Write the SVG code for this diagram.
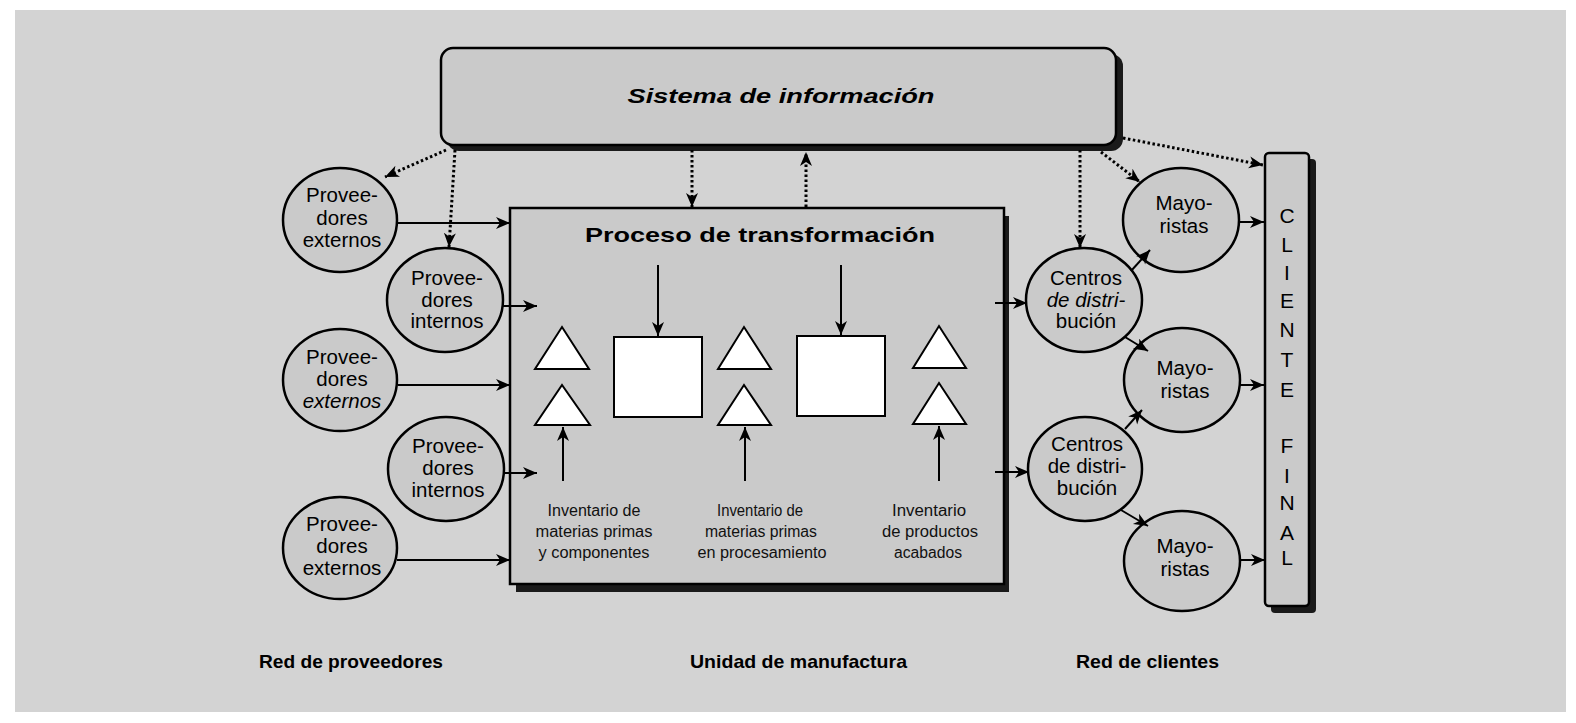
<svg xmlns="http://www.w3.org/2000/svg" width="1576" height="723" viewBox="0 0 1576 723">
<defs>
<style>
.bg{fill:#d3d3d3}
.node{fill:#cacaca;stroke:#000;stroke-width:2.5}
.shadow{fill:#1a1a1a}
.white{fill:#fff;stroke:#000;stroke-width:2}
.solid{stroke:#000;stroke-width:2;fill:none}
.dot{stroke:#000;stroke-width:3;fill:none;stroke-dasharray:2.5 2.5}
.lbl{font-family:"Liberation Sans",Arial,sans-serif;font-size:20.5px;fill:#000;text-anchor:middle}
.it{font-style:italic}
.inv{font-family:"Liberation Sans Narrow","Liberation Sans",sans-serif;font-size:16px;fill:#111;text-anchor:middle}
.title{font-family:"Liberation Sans",Arial,sans-serif;font-weight:bold;font-size:21px;fill:#000;text-anchor:middle}
.cf{font-family:"Liberation Sans",Arial,sans-serif;font-size:21px;fill:#000;text-anchor:middle}
.foot{font-family:"Liberation Sans",Arial,sans-serif;font-weight:bold;font-size:19px;fill:#000}
</style>
<marker id="ah" markerUnits="userSpaceOnUse" markerWidth="16" markerHeight="14" refX="14" refY="6" orient="auto" viewBox="0 0 16 14">
<path d="M0,0 L14,6 L0,12 L4,6 Z" fill="#000"/>
</marker>
</defs>
<rect x="0" y="0" width="1576" height="723" fill="#fff"/>
<rect class="bg" x="15" y="10" width="1551" height="702"/>

<g id="sistema">
<rect class="shadow" x="447" y="54" width="676" height="97" rx="12"/>
<rect class="node" x="441" y="48" width="675" height="97" rx="12"/>
<text class="title it" x="781" y="103" textLength="307" lengthAdjust="spacingAndGlyphs">Sistema de información</text>
</g>

<g id="proceso">
<rect class="shadow" x="516" y="216" width="493" height="376"/>
<rect class="node" x="510" y="208" width="494" height="376"/>
<text class="title" x="760" y="242" textLength="350" lengthAdjust="spacingAndGlyphs">Proceso de transformación</text>
<polygon class="white" points="535,369 589,369 562,327"/>
<polygon class="white" points="535,425 590,425 562,385"/>
<rect class="white" x="614" y="337" width="88" height="80"/>
<polygon class="white" points="718,369 771,369 744,327"/>
<polygon class="white" points="718,425 771,425 744,385"/>
<rect class="white" x="797" y="336" width="88" height="80"/>
<polygon class="white" points="913,368 966,368 939,326"/>
<polygon class="white" points="913,424 966,424 939,383"/>
<text class="inv" x="594" y="516" textLength="93" lengthAdjust="spacingAndGlyphs">Inventario de</text>
<text class="inv" x="594" y="537" textLength="117" lengthAdjust="spacingAndGlyphs">materias primas</text>
<text class="inv" x="594" y="558" textLength="111" lengthAdjust="spacingAndGlyphs">y componentes</text>
<text class="inv" x="760" y="516" textLength="86" lengthAdjust="spacingAndGlyphs">Inventario de</text>
<text class="inv" x="761" y="537" textLength="112" lengthAdjust="spacingAndGlyphs">materias primas</text>
<text class="inv" x="762" y="558" textLength="129" lengthAdjust="spacingAndGlyphs">en procesamiento</text>
<text class="inv" x="929" y="516" textLength="74" lengthAdjust="spacingAndGlyphs">Inventario</text>
<text class="inv" x="930" y="537" textLength="96" lengthAdjust="spacingAndGlyphs">de productos</text>
<text class="inv" x="928" y="558" textLength="68" lengthAdjust="spacingAndGlyphs">acabados</text>
</g>

<g id="prov-ext-1">
<ellipse class="node" cx="340" cy="220" rx="57" ry="52"/>
<text class="lbl" x="342" y="202">Provee-</text>
<text class="lbl" x="342" y="225">dores</text>
<text class="lbl" x="342" y="247">externos</text>
</g>
<g id="prov-int-1">
<ellipse class="node" cx="445" cy="300" rx="58" ry="52"/>
<text class="lbl" x="447" y="285">Provee-</text>
<text class="lbl" x="447" y="307">dores</text>
<text class="lbl" x="447" y="328">internos</text>
</g>
<g id="prov-ext-2">
<ellipse class="node" cx="340" cy="380" rx="57" ry="51"/>
<text class="lbl" x="342" y="364">Provee-</text>
<text class="lbl" x="342" y="386">dores</text>
<text class="lbl it" x="342" y="408">externos</text>
</g>
<g id="prov-int-2">
<ellipse class="node" cx="446" cy="469" rx="58" ry="52"/>
<text class="lbl" x="448" y="453">Provee-</text>
<text class="lbl" x="448" y="475">dores</text>
<text class="lbl" x="448" y="497">internos</text>
</g>
<g id="prov-ext-3">
<ellipse class="node" cx="340" cy="548" rx="57" ry="51"/>
<text class="lbl" x="342" y="531">Provee-</text>
<text class="lbl" x="342" y="553">dores</text>
<text class="lbl" x="342" y="575">externos</text>
</g>

<g id="centros-1">
<ellipse class="node" cx="1084" cy="300" rx="58" ry="52"/>
<text class="lbl" x="1086" y="285">Centros</text>
<text class="lbl it" x="1086" y="307">de distri-</text>
<text class="lbl" x="1086" y="328">bución</text>
</g>
<g id="centros-2">
<ellipse class="node" cx="1085" cy="469" rx="57" ry="52"/>
<text class="lbl" x="1087" y="451">Centros</text>
<text class="lbl" x="1087" y="473">de distri-</text>
<text class="lbl" x="1087" y="495">bución</text>
</g>

<g id="mayoristas-1">
<ellipse class="node" cx="1181" cy="220" rx="58" ry="52"/>
<text class="lbl" x="1184" y="210">Mayo-</text>
<text class="lbl" x="1184" y="233">ristas</text>
</g>
<g id="mayoristas-2">
<ellipse class="node" cx="1182" cy="380" rx="58" ry="52"/>
<text class="lbl" x="1185" y="375">Mayo-</text>
<text class="lbl" x="1185" y="398">ristas</text>
</g>
<g id="mayoristas-3">
<ellipse class="node" cx="1182" cy="561" rx="58" ry="50"/>
<text class="lbl" x="1185" y="553">Mayo-</text>
<text class="lbl" x="1185" y="576">ristas</text>
</g>

<g id="cliente-final">
<rect class="shadow" x="1271" y="159" width="45" height="454" rx="4"/>
<rect class="node" x="1265" y="153" width="44" height="453" rx="4"/>
<text class="cf" x="1287" y="223">C</text>
<text class="cf" x="1287" y="252">L</text>
<text class="cf" x="1287" y="280">I</text>
<text class="cf" x="1287" y="308">E</text>
<text class="cf" x="1287" y="337">N</text>
<text class="cf" x="1287" y="367">T</text>
<text class="cf" x="1287" y="397">E</text>
<text class="cf" x="1287" y="453">F</text>
<text class="cf" x="1287" y="483">I</text>
<text class="cf" x="1287" y="510">N</text>
<text class="cf" x="1287" y="540">A</text>
<text class="cf" x="1287" y="565">L</text>
</g>

<g id="connectors">
<line class="dot" x1="446" y1="150" x2="385" y2="177" marker-end="url(#ah)"/>
<line class="dot" x1="455" y1="150" x2="449" y2="247" marker-end="url(#ah)"/>
<line class="dot" x1="692" y1="150" x2="692" y2="207" marker-end="url(#ah)"/>
<line class="dot" x1="806" y1="207" x2="806" y2="152" marker-end="url(#ah)"/>
<line class="dot" x1="1080" y1="150" x2="1080" y2="248" marker-end="url(#ah)"/>
<line class="dot" x1="1101" y1="152" x2="1140" y2="182" marker-end="url(#ah)"/>
<line class="dot" x1="1123" y1="138" x2="1263" y2="165" marker-end="url(#ah)"/>

<line class="solid" x1="397" y1="223" x2="510" y2="223" marker-end="url(#ah)"/>
<line class="solid" x1="503" y1="306" x2="537" y2="306" marker-end="url(#ah)"/>
<line class="solid" x1="398" y1="385" x2="510" y2="385" marker-end="url(#ah)"/>
<line class="solid" x1="504" y1="473" x2="537" y2="473" marker-end="url(#ah)"/>
<line class="solid" x1="397" y1="560" x2="510" y2="560" marker-end="url(#ah)"/>

<line class="solid" x1="658" y1="265" x2="658" y2="336" marker-end="url(#ah)"/>
<line class="solid" x1="841" y1="265" x2="841" y2="335" marker-end="url(#ah)"/>
<line class="solid" x1="563" y1="481" x2="563" y2="427" marker-end="url(#ah)"/>
<line class="solid" x1="745" y1="481" x2="745" y2="427" marker-end="url(#ah)"/>
<line class="solid" x1="939" y1="481" x2="939" y2="426" marker-end="url(#ah)"/>

<line class="solid" x1="995" y1="303" x2="1027" y2="303" marker-end="url(#ah)"/>
<line class="solid" x1="995" y1="472" x2="1029" y2="472" marker-end="url(#ah)"/>

<line class="solid" x1="1131" y1="271" x2="1150" y2="250" marker-end="url(#ah)"/>
<line class="solid" x1="1125" y1="337" x2="1148" y2="351" marker-end="url(#ah)"/>
<line class="solid" x1="1125" y1="429" x2="1142" y2="410" marker-end="url(#ah)"/>
<line class="solid" x1="1121" y1="510" x2="1148" y2="526" marker-end="url(#ah)"/>

<line class="solid" x1="1239" y1="222" x2="1264" y2="222" marker-end="url(#ah)"/>
<line class="solid" x1="1239" y1="385" x2="1264" y2="385" marker-end="url(#ah)"/>
<line class="solid" x1="1240" y1="560" x2="1265" y2="560" marker-end="url(#ah)"/>
</g>

<g id="footer">
<text class="foot" x="259" y="668" textLength="184" lengthAdjust="spacingAndGlyphs">Red de proveedores</text>
<text class="foot" x="690" y="668" textLength="217" lengthAdjust="spacingAndGlyphs">Unidad de manufactura</text>
<text class="foot" x="1076" y="668" textLength="143" lengthAdjust="spacingAndGlyphs">Red de clientes</text>
</g>
</svg>
